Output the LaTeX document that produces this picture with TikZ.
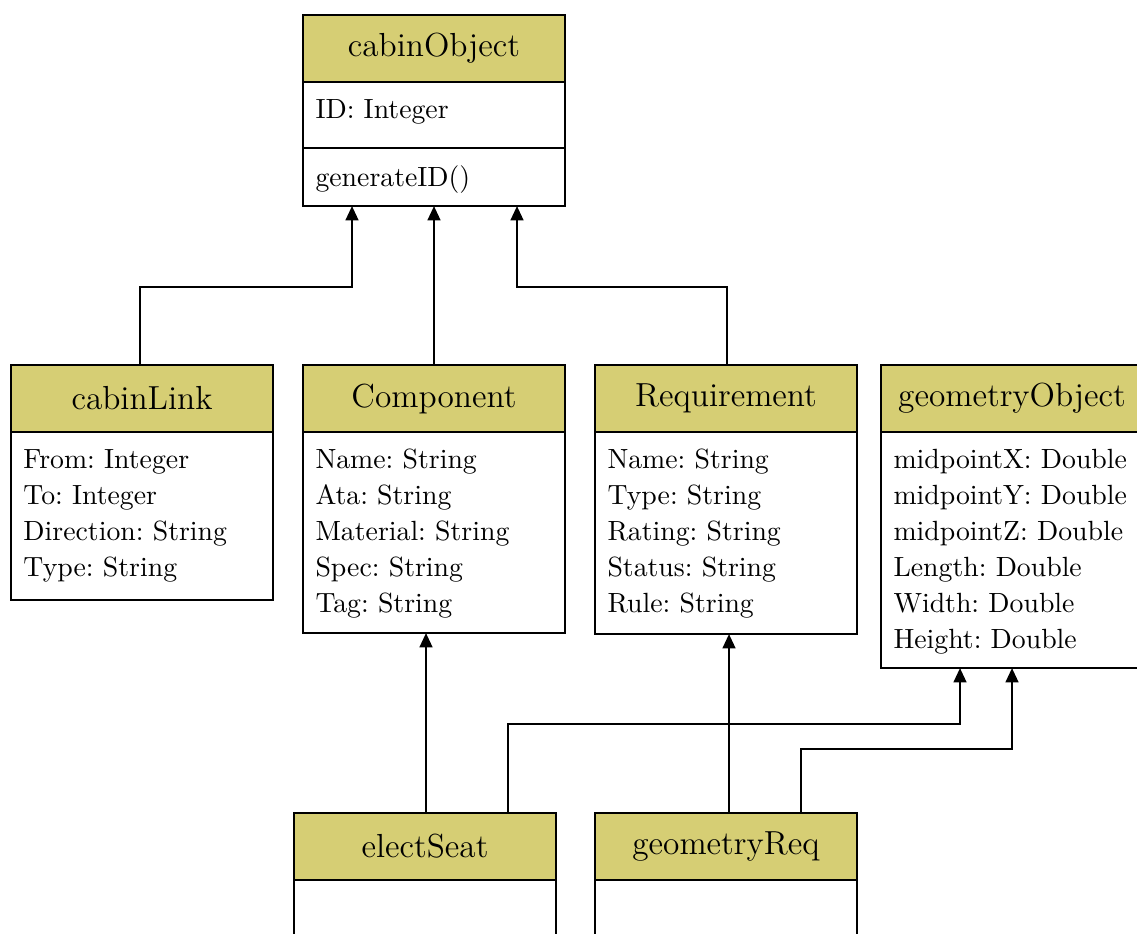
\documentclass[tikz,border=0pt]{standalone}
\usetikzlibrary{arrows.meta,calc}
\definecolor{titlefill}{RGB}{214,206,116}
\tikzset{
  titlebox/.style={draw, line width=1pt, fill=titlefill, minimum width=262*0.36pt,
    minimum height=67*0.36pt, inner sep=0pt, outer sep=0pt,
    font=\fontsize{12}{14}\selectfont, anchor=north west},
  bodybox/.style={draw, line width=1pt, fill=white, minimum width=262*0.36pt,
    inner sep=0pt, outer sep=0pt, anchor=north west},
  attrtext/.style={anchor=north west, align=left, text width=250*0.36pt,
    inner xsep=4.3pt, inner ysep=3.9pt, font=\fontsize{10}{12.96}\selectfont\frenchspacing},
  inh/.style={draw, line width=0.85pt, -{Triangle[width=4.6pt,length=5.2pt]}},
}
\begin{document}
\begin{tikzpicture}[x=0.36pt,y=-0.36pt]
\useasboundingbox (0,0) rectangle (1137,933);
\clip (0,0) rectangle (1137,933);

% cabinObject
\node[titlebox] (cobT) at (303,15) {cabinObject};
\node[bodybox, minimum height=66*0.36pt] (cobA) at (cobT.south west) {};
\node[bodybox, minimum height=58*0.36pt] (cobM) at (cobA.south west) {};
\node[attrtext] (cobAt) at (cobA.north west) {\strut ID: Integer};
\node[attrtext, yshift=-0.7pt] (cobMt) at (cobM.north west) {\strut generateID()};

% cabinLink
\node[titlebox] (clT) at (11,365) {cabinLink};
\node[bodybox, minimum height=168*0.36pt] (clB) at (clT.south west) {};
\node[attrtext] (clBt) at (clB.north west) {\strut From: Integer\\To: Integer\\Direction: String\\Type: String};

% Component
\node[titlebox] (comT) at (303,365) {Component};
\node[bodybox, minimum height=201*0.36pt] (comB) at (comT.south west) {};
\node[attrtext] (comBt) at (comB.north west) {\strut Name: String\\Ata: String\\Material: String\\Spec: String\\Tag: String};

% Requirement
\node[titlebox] (reqT) at (595,365) {Requirement};
\node[bodybox, minimum height=202*0.36pt] (reqB) at (reqT.south west) {};
\node[attrtext] (reqBt) at (reqB.north west) {\strut Name: String\\Type: String\\Rating: String\\Status: String\\Rule: String};

% geometryObject
\node[titlebox] (geoT) at (881,365) {geometryObject};
\node[bodybox, minimum height=236*0.36pt] (geoB) at (geoT.south west) {};
\node[attrtext] (geoBt) at (geoB.north west) {\strut midpointX: Double\\midpointY: Double\\midpointZ: Double\\Length: Double\\Width: Double\\Height: Double};

% electSeat
\node[titlebox] (esT) at (294,813) {electSeat};
\node[bodybox, minimum height=120*0.36pt] (esB) at (esT.south west) {};

% geometryReq
\node[titlebox] (grT) at (595,813) {geometryReq};
\node[bodybox, minimum height=120*0.36pt] (grB) at (grT.south west) {};

% connector end points
\coordinate (clS) at ($(clT.north)+(-2,0)$);
\coordinate (reqS) at ($(reqT.north)+(1,0)$);
\coordinate (esS1) at ($(esT.north)+(1,0)$);
\coordinate (esS2) at ($(esT.north)+(83,0)$);
\coordinate (grS1) at ($(grT.north)+(3,0)$);
\coordinate (grS2) at ($(grT.north)+(75,0)$);
\coordinate (cobL) at ($(cobM.south)+(-82,0)$);
\coordinate (cobR) at ($(cobM.south)+(83,0)$);
\coordinate (geoL) at ($(geoB.south)+(-52,0)$);
\coordinate (comE) at (esS1 |- comB.south);
\coordinate (reqE) at (grS1 |- reqB.south);

% connectors
\draw[inh] (clS) |- ($(cobL)+(0,81)$) -- (cobL);
\draw[inh] (comT.north) -- (cobM.south);
\draw[inh] (reqS) |- ($(cobR)+(0,81)$) -- (cobR);
\draw[inh] (esS1) -- (comE);
\draw[inh] (esS2) |- ($(geoL)+(0,56)$) -- (geoL);
\draw[inh] (grS1) -- (reqE);
\draw[inh] (grS2) |- ($(geoB.south)+(0,81)$) -- (geoB.south);
\end{tikzpicture}
\end{document}
